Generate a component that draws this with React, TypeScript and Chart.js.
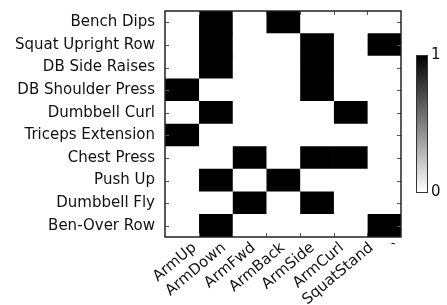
import React, { useEffect, useRef } from "react";
import { Chart, registerables } from "chart.js";

Chart.register(...registerables);

// ---- data ----
const exercises = [
  "Bench Dips",
  "Squat Upright Row",
  "DB Side Raises",
  "DB Shoulder Press",
  "Dumbbell Curl",
  "Triceps Extension",
  "Chest Press",
  "Push Up",
  "Dumbbell Fly",
  "Ben-Over Row",
];
const motionLabels = ["ArmUp", "ArmDown", "ArmFwd", "ArmBack", "ArmSide", "ArmCurl", "SquatStand", "`"];
const columnCount = 7;
const cellRows = [
  [0, 1, 0, 1, 0, 0, 0],
  [0, 1, 0, 0, 1, 0, 1],
  [0, 1, 0, 0, 1, 0, 0],
  [1, 0, 0, 0, 1, 0, 0],
  [0, 1, 0, 0, 0, 1, 0],
  [1, 0, 0, 0, 0, 0, 0],
  [0, 0, 1, 0, 1, 1, 0],
  [0, 1, 0, 1, 0, 0, 0],
  [0, 0, 1, 0, 1, 0, 0],
  [0, 1, 0, 0, 0, 0, 1],
];
const colorbarLabels = ["1", "0"];

const FONT = "'DejaVu Sans', sans-serif";
const TEXT = "#111";

function cellColor(v: number) {
  const g = Math.round(255 * (1 - v));
  return `rgb(${g},${g},${g})`;
}

const framePlugin = {
  id: "frame",
  afterDatasetsDraw(chart: any) {
    const { ctx, chartArea: a, scales } = chart;
    const xs = scales.x;
    const ys = scales.y;
    ctx.save();
    ctx.strokeStyle = "#555";
    ctx.lineWidth = 1;
    ctx.beginPath();
    exercises.forEach((_, i) => {
      const py = Math.round(ys.getPixelForValue(i)) + 0.5;
      ctx.moveTo(a.left, py);
      ctx.lineTo(a.left + 4, py);
      ctx.moveTo(a.right - 4, py);
      ctx.lineTo(a.right, py);
    });
    for (let c = 1; c < columnCount; c++) {
      const px = Math.round(xs.getPixelForValue(c)) + 0.5;
      ctx.moveTo(px, a.top);
      ctx.lineTo(px, a.top + 4);
      ctx.moveTo(px, a.bottom - 4);
      ctx.lineTo(px, a.bottom);
    }
    ctx.stroke();
    ctx.strokeStyle = "#222";
    ctx.lineWidth = 1.5;
    ctx.strokeRect(a.left, a.top, a.right - a.left, a.bottom - a.top);
    ctx.restore();
  },
};

const colorbarPlugin = {
  id: "colorbar",
  afterDraw(chart: any) {
    const { ctx, chartArea: a } = chart;
    const left = a.right + 15;
    const w = 11;
    const top = a.top + 44;
    const bottom = a.bottom - 45;
    ctx.save();
    const g = ctx.createLinearGradient(0, top, 0, bottom);
    g.addColorStop(0, cellColor(1));
    g.addColorStop(1, cellColor(0));
    ctx.fillStyle = g;
    ctx.fillRect(left, top, w, bottom - top);
    ctx.strokeStyle = "#333";
    ctx.lineWidth = 1;
    ctx.strokeRect(left + 0.5, top + 0.5, w, bottom - top);
    ctx.fillStyle = TEXT;
    ctx.font = `15px ${FONT}`;
    ctx.textAlign = "left";
    ctx.textBaseline = "middle";
    ctx.fillText(colorbarLabels[0], left + w + 4, top);
    ctx.fillText(colorbarLabels[1], left + w + 4, bottom);
    ctx.restore();
  },
};

export default function App() {
  const ref = useRef<HTMLCanvasElement>(null);

  useEffect(() => {
    if (!ref.current) return;
    const datasets = Array.from({ length: columnCount }, (_, c) => ({
      label: motionLabels[c],
      data: exercises.map(() => [c, c + 1]),
      backgroundColor: exercises.map((_, r) => cellColor(cellRows[r][c])),
      borderWidth: 0,
      barPercentage: 1,
      categoryPercentage: 1,
      grouped: false,
    }));
    const chart = new Chart(ref.current, {
      type: "bar",
      data: { labels: exercises, datasets: datasets as any },
      options: {
        indexAxis: "y",
        animation: false,
        responsive: false,
        layout: { padding: { top: 11, right: 46, bottom: 0, left: 0 } },
        plugins: { legend: { display: false }, tooltip: { enabled: false } },
        scales: {
          y: {
            type: "category",
            offset: true,
            grid: { display: false, drawTicks: false },
            border: { display: false },
            ticks: { color: TEXT, font: { family: FONT, size: 15 }, padding: 10, autoSkip: false },
            afterFit: (s: any) => {
              s.width = 165;
              s.paddingTop = 0;
              s.paddingBottom = 0;
            },
          },
          x: {
            type: "linear",
            min: 0,
            max: columnCount,
            grid: { display: false, drawTicks: false },
            border: { display: false },
            afterBuildTicks: (s: any) => {
              s.ticks = motionLabels.map((_, i) => ({ value: ((i + 1) * columnCount) / motionLabels.length }));
            },
            ticks: {
              color: TEXT,
              font: { family: FONT, size: 15 },
              padding: 2,
              autoSkip: false,
              minRotation: 40,
              maxRotation: 40,
              callback: (_v: any, i: number) => motionLabels[i],
            },
            afterFit: (s: any) => {
              s.height = 68;
              s.paddingLeft = 0;
              s.paddingRight = 0;
            },
          },
        },
      },
      plugins: [framePlugin, colorbarPlugin],
    });
    return () => chart.destroy();
  }, []);

  return (
    <div style={{ position: "fixed", left: 0, top: 0, width: 447, height: 305, background: "#fff" }}>
      <canvas ref={ref} width={447} height={305} />
    </div>
  );
}
